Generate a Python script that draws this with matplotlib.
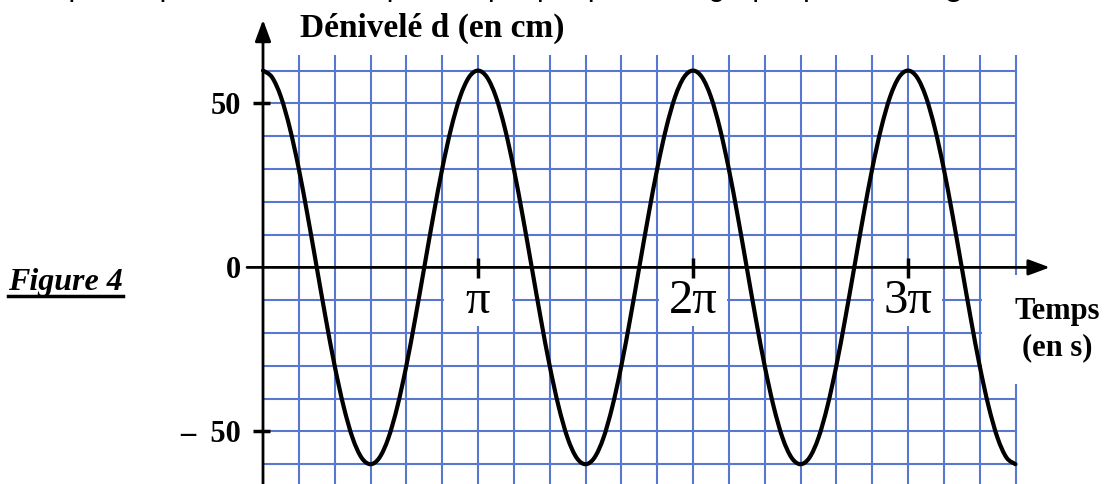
import numpy as np
import matplotlib
matplotlib.use("Agg")
import matplotlib.pyplot as plt
from matplotlib.patches import Rectangle, PathPatch
from matplotlib.path import Path
from matplotlib.lines import Line2D

# ---------------- data ----------------
# dénivelé d (cm), sampled every pi/24 s from t = 0 to t = 3.5*pi
d_values = [
    60, 58, 52, 42.4, 30, 15.5, 0, -15.5, -30, -42.4, -52, -58,
    -60, -58, -52, -42.4, -30, -15.5, 0, 15.5, 30, 42.4, 52, 58,
    60, 58, 52, 42.4, 30, 15.5, 0, -15.5, -30, -42.4, -52, -58,
    -60, -58, -52, -42.4, -30, -15.5, 0, 15.5, 30, 42.4, 52, 58,
    60, 58, 52, 42.4, 30, 15.5, 0, -15.5, -30, -42.4, -52, -58,
    -60, -58, -52, -42.4, -30, -15.5, 0, 15.5, 30, 42.4, 52, 58,
    60, 58, 52, 42.4, 30, 15.5, 0, -15.5, -30, -42.4, -52, -58,
    -60,
]
t_step = 1 / 24          # in units of pi
x_ticks = [1, 2, 3]      # in units of pi
x_tick_labels = ["π", "2π", "3π"]
y_ticks = [50, 0, -50]
y_tick_labels = ["50", "0", "–  50"]
y_label = "Dénivelé d (en cm)"
x_label = ["Temps", "(en s)"]
fig_label = "Figure 4"

t_values = np.arange(len(d_values)) * t_step

# ---------------- layout (pixel mapping) ----------------
W, H = 1108, 484
X0, SX = 263.0, 215.0       # pixel of t=0, pixels per pi
Y0, SY = 267.4, 3.28        # pixel of d=0, pixels per cm

serif = "Liberation Serif"
grid_c = "#5878cf"

fig = plt.figure(figsize=(W / 100, H / 100), dpi=100)
ax = fig.add_axes([0, 0, 1, 1])
ax.set_xlim(-X0 / SX, (W - X0) / SX)
ax.set_ylim(-(H - Y0) / SY, Y0 / SY)
ax.axis("off")

# grid
vx = [k / 6 for k in range(1, 22)]
ax.vlines(vx, -75, 64.8, color=grid_c, lw=1.5, zorder=1)
hy = [v for v in range(-60, 61, 10) if v != 0]
ax.hlines(hy, 0, 3.5, color=grid_c, lw=1.5, zorder=1)

# white masks behind labels
for xt in x_ticks:
    ax.add_patch(Rectangle((xt - 0.16, -18.0), 0.32, 15.7, facecolor="white",
                           edgecolor="none", zorder=2))
ax.add_patch(Rectangle((3.344, -35.5), 0.7, 33.2, facecolor="white",
                       edgecolor="none", zorder=2))

# axes with arrows
arrow_kw = dict(arrowstyle="-|>,head_length=0.65,head_width=0.24", lw=2,
                color="black", shrinkA=0, shrinkB=0, mutation_scale=20)
ax.annotate("", xy=(0, 75.5), xytext=(0, -75), arrowprops=arrow_kw,
            annotation_clip=False, zorder=3)
ax.annotate("", xy=(3.66, 0), xytext=(-0.074, 0), arrowprops=arrow_kw,
            annotation_clip=False, zorder=3)

# ticks
ax.hlines([50, -50], -0.0465, 0.0326, color="black", lw=2.5, zorder=3)
ax.vlines(x_ticks, -3.2, 2.9, color="black", lw=2.5, zorder=3)

# curve: smooth cubic Bezier path through the sampled points
pts = np.column_stack([t_values, d_values])
n = len(pts)
verts = [pts[0]]
codes = [Path.MOVETO]
for i in range(n - 1):
    p_prev = pts[i - 1] if i > 0 else pts[i]
    p0, p1 = pts[i], pts[i + 1]
    p_next = pts[i + 2] if i + 2 < n else pts[i + 1]
    c1 = p0 + (p1 - p_prev) / 6
    c2 = p1 - (p_next - p0) / 6
    verts += [c1, c2, p1]
    codes += [Path.CURVE4] * 3
ax.add_patch(PathPatch(Path(verts, codes), facecolor="none",
                       edgecolor="black", lw=3, zorder=4,
                       capstyle="round", joinstyle="round"))

# tick labels
for yv, lab in zip(y_ticks, y_tick_labels):
    ax.text(-0.102, yv - 3.3, lab, ha="right", va="baseline", family=serif,
            weight="bold", fontsize=22, zorder=5)
for xv, lab in zip(x_ticks, x_tick_labels):
    ax.text(xv, -14.0, lab, ha="center", va="baseline", family=serif,
            fontsize=35, zorder=5)

# axis labels
ax.text(0.17, 70.2, y_label, ha="left", va="baseline", family=serif,
        weight="bold", fontsize=24, zorder=5)
ax.text(3.693, -15.7, x_label[0], ha="center", va="baseline", family=serif,
        weight="bold", fontsize=22, zorder=5)
ax.text(3.693, -26.7, x_label[1], ha="center", va="baseline", family=serif,
        weight="bold", fontsize=22, zorder=5)

# "Figure 4" (bold italic, underlined)
ft = fig.text(8 / W, 1 - 290 / H, fig_label, ha="left", va="baseline",
              family=serif, weight="bold", style="italic", fontsize=23)

# clipped sentence at the very top of the picture (only descenders show)
top_y = 1 + 5 / H
fig.text(918 / W, top_y,
         "complétée par une fonction périodique p à partir du graphique de la",
         ha="right", va="baseline", family="Liberation Sans", fontsize=22)
fig.text(926 / W, top_y, "figure 4 .", ha="left", va="baseline",
         family="Liberation Sans", weight="bold", fontsize=22)

fig.canvas.draw()
bb = ft.get_window_extent()
uy = 1 - 296 / H
fig.add_artist(Line2D([bb.x0 / W, bb.x1 / W], [uy, uy],
                      transform=fig.transFigure, color="black", lw=2.5))

fig.savefig("out.png", dpi=100)
